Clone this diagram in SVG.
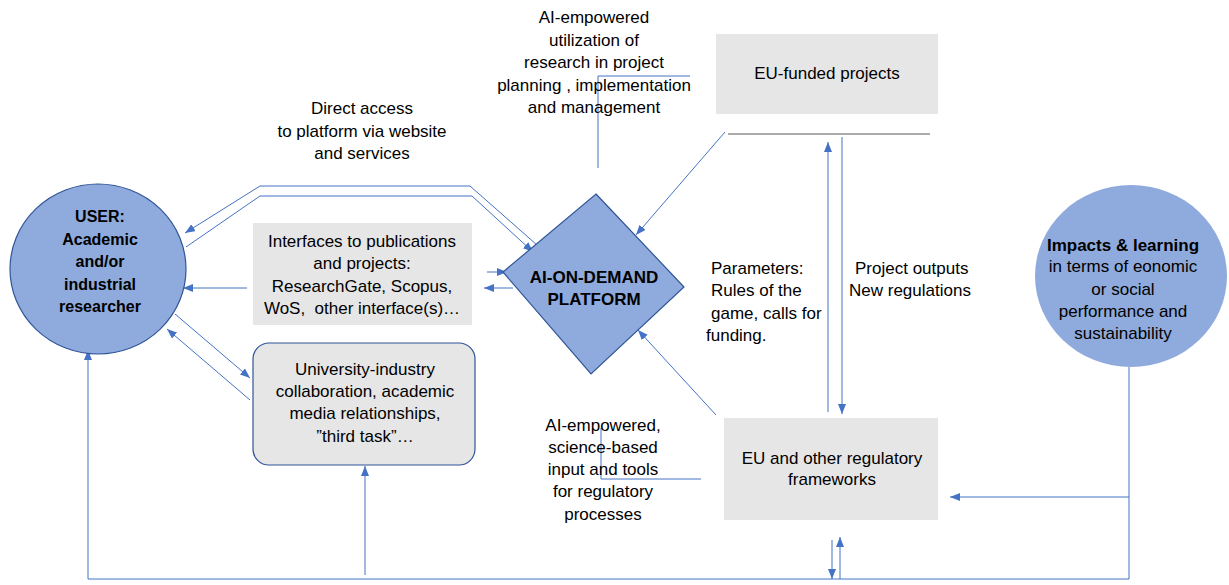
<svg xmlns="http://www.w3.org/2000/svg" width="1229" height="585" viewBox="0 0 1229 585">
<defs>
<marker id="ah" markerWidth="10" markerHeight="8" refX="10" refY="4" orient="auto" markerUnits="userSpaceOnUse">
<path d="M0,0 L10,4 L0,8 z" fill="#4472c4"/>
</marker>
</defs>
<style>
text{font-family:"Liberation Sans",Arial,sans-serif;font-size:17px;fill:#000;text-anchor:middle}
.b{font-weight:bold;font-size:16px}
.l{text-anchor:start}
.box{fill:#e6e6e6}
.c{fill:none;stroke:#4472c4;stroke-width:1}
.a{marker-end:url(#ah)}
</style>
<rect width="1229" height="585" fill="#fff"/>

<g id="connectors">
<path class="c a" d="M537,245 L470,186 L260,186 L185,233"/>
<path class="c a" d="M186,247 L260,196 L472,196 L533,252"/>
<path class="c a" d="M247,288 L183,288"/>
<path class="c a" d="M175,314 L250,378"/>
<path class="c a" d="M250,400 L167,329"/>
<path class="c a" d="M1129,367 L1129,579 L88,579 L88,350"/>
<path class="c a" d="M1129,497 L950,497"/>
<path class="c a" d="M365,575 L365,466"/>
<path class="c a" d="M832,540 L832,579"/>
<path class="c a" d="M840,579 L840,537"/>
<path class="c a" d="M828,412 L828,142"/>
<path class="c a" d="M842,137 L842,414"/>
<path d="M728,134 L930,134" fill="none" stroke="#595959" stroke-width="1"/>
<path class="c a" d="M725,132 L636,235"/>
<path class="c a" d="M716,415 L638,330"/>
<path class="c a" d="M487,272 L507,272"/>
<path class="c a" d="M513,288 L484,288"/>
<path class="c" d="M659,285 L683,286"/>
<path class="c" d="M598,168 L598,76 L690,76"/>
<path class="c" d="M701,479 L601,479 L601,428"/>
</g>

<g id="user">
<ellipse cx="98" cy="269" rx="88" ry="85" fill="#8faadc" stroke="#2f5597" stroke-width="1.2"/>
<text class="b" x="100" y="222">USER:</text>
<text class="b" x="100" y="245">Academic</text>
<text class="b" x="100" y="267">and/or</text>
<text class="b" x="100" y="290">industrial</text>
<text class="b" x="100" y="312">researcher</text>
</g>

<g id="platform">
<path d="M596,194 L684,287 L591,374 L503,272 z" fill="#8faadc" stroke="#2f5597" stroke-width="1.2"/>
<text class="b" x="594" y="283" style="font-size:17px">AI-ON-DEMAND</text>
<text class="b" x="594" y="305" style="font-size:17px">PLATFORM</text>
</g>

<g id="interfaces">
<rect class="box" x="253" y="223" width="219" height="102"/>
<text x="362" y="247">Interfaces to publications</text>
<text x="362" y="269">and projects:</text>
<text x="362" y="292">ResearchGate, Scopus,</text>
<text x="362" y="314" xml:space="preserve">WoS,  other interface(s)…</text>
</g>

<g id="university">
<rect x="253" y="343" width="222" height="122" rx="16" fill="#e6e6e6" stroke="#2f5597" stroke-width="1.2"/>
<text x="365" y="375">University-industry</text>
<text x="365" y="397">collaboration, academic</text>
<text x="365" y="419">media relationships,</text>
<text x="365" y="442">”third task”…</text>
</g>

<g id="eu-funded">
<rect class="box" x="716" y="34" width="222" height="80"/>
<text x="827" y="79">EU-funded projects</text>
</g>

<g id="eu-regulatory">
<rect class="box" x="724" y="418" width="214" height="102"/>
<text x="832" y="464">EU and other regulatory</text>
<text x="832" y="485">frameworks</text>
</g>

<g id="impacts">
<ellipse cx="1131" cy="276" rx="96" ry="91" fill="#8faadc"/>
<text class="b" x="1123" y="251" style="font-size:17px">Impacts &amp; learning</text>
<text x="1123" y="272">in terms of eonomic</text>
<text x="1123" y="295">or social</text>
<text x="1123" y="317">performance and</text>
<text x="1123" y="339">sustainability</text>
</g>

<g id="labels">
<text x="362" y="114">Direct access</text>
<text x="362" y="137">to platform via website</text>
<text x="362" y="159">and services</text>

<text x="594" y="23">AI-empowered</text>
<text x="594" y="46">utilization of</text>
<text x="594" y="68">research in project</text>
<text x="594" y="91">planning , implementation</text>
<text x="594" y="113">and management</text>

<text class="l" x="711" y="274">Parameters:</text>
<text class="l" x="711" y="296">Rules of the</text>
<text class="l" x="711" y="319">game, calls for</text>
<text class="l" x="706" y="341">funding.</text>

<text class="l" x="855" y="274">Project outputs</text>
<text class="l" x="849" y="296">New regulations</text>

<text x="603" y="431">AI-empowered,</text>
<text x="603" y="453">science-based</text>
<text x="603" y="475">input and tools</text>
<text x="603" y="497">for regulatory</text>
<text x="603" y="520">processes</text>
</g>
</svg>
